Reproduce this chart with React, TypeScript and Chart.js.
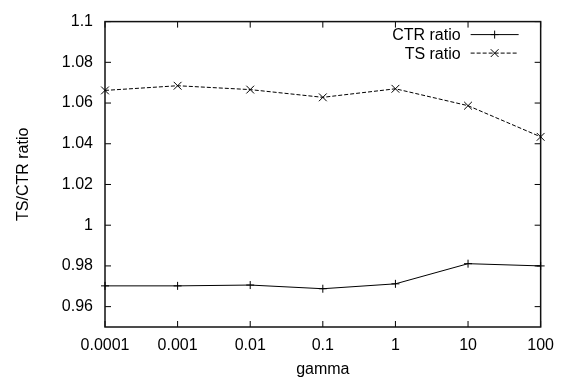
import React, { useEffect, useRef } from 'react';
import { Chart, registerables } from 'chart.js';

Chart.register(...registerables);

const GAMMA_LABELS = ['0.0001', '0.001', '0.01', '0.1', '1', '10', '100'];
const CTR_RATIO = [0.9702, 0.9702, 0.9706, 0.9688, 0.9712, 0.9811, 0.98];
const TS_RATIO = [1.0662, 1.0685, 1.0666, 1.0628, 1.067, 1.0587, 1.0434];
const Y_TICKS = [0.96, 0.98, 1, 1.02, 1.04, 1.06, 1.08, 1.1];
const Y_MIN = 0.95;
const Y_MAX = 1.1;

const FONT = "'Liberation Sans', Arial, Helvetica, sans-serif";

const framePlugin = {
  id: 'gnuFrame',
  beforeDatasetsDraw(chart: any) {
    const { ctx, chartArea: a, scales } = chart;
    const xs = scales.x;
    const ys = scales.y;
    const T = 6;
    ctx.save();
    ctx.strokeStyle = '#000';
    ctx.lineWidth = 1;
    ctx.beginPath();
    xs.ticks.forEach((_t: any, i: number) => {
      const px = xs.getPixelForTick(i);
      ctx.moveTo(px, a.bottom);
      ctx.lineTo(px, a.bottom - T);
      ctx.moveTo(px, a.top);
      ctx.lineTo(px, a.top + T);
    });
    ys.ticks.forEach((t: any) => {
      const py = ys.getPixelForValue(t.value);
      ctx.moveTo(a.left, py);
      ctx.lineTo(a.left + T, py);
      ctx.moveTo(a.right, py);
      ctx.lineTo(a.right - T, py);
    });
    ctx.stroke();
    ctx.lineWidth = 1.5;
    ctx.strokeStyle = '#111';
    ctx.strokeRect(a.left, a.top, a.right - a.left, a.bottom - a.top);
    ctx.restore();
  },
  afterDraw(chart: any) {
    const { ctx, chartArea: a } = chart;
    const textRight = a.right - 80;
    const x0 = a.right - 70;
    const x1 = a.right - 22;
    const xm = (x0 + x1) / 2;
    ctx.save();
    ctx.font = `16px ${FONT}`;
    ctx.textAlign = 'right';
    ctx.textBaseline = 'middle';
    ctx.fillStyle = '#000';
    chart.data.datasets.forEach((ds: any, i: number) => {
      const y = a.top + 13 + i * 18.5;
      ctx.fillText(ds.label, textRight, y + 1);
      ctx.strokeStyle = '#000';
      ctx.lineWidth = 1;
      ctx.setLineDash(ds.borderDash || []);
      ctx.beginPath();
      ctx.moveTo(x0, y);
      ctx.lineTo(x1, y);
      ctx.stroke();
      ctx.setLineDash([]);
      ctx.beginPath();
      if (ds.pointStyle === 'cross') {
        const r = ds.pointRadius;
        ctx.moveTo(xm - r, y);
        ctx.lineTo(xm + r, y);
        ctx.moveTo(xm, y - r);
        ctx.lineTo(xm, y + r);
      } else {
        const r = ds.pointRadius * Math.SQRT1_2;
        ctx.moveTo(xm - r, y - r);
        ctx.lineTo(xm + r, y + r);
        ctx.moveTo(xm - r, y + r);
        ctx.lineTo(xm + r, y - r);
      }
      ctx.stroke();
    });
    ctx.restore();
  },
};

export default function App() {
  const ref = useRef<HTMLCanvasElement | null>(null);

  useEffect(() => {
    if (!ref.current) return;
    const chart = new Chart(ref.current, {
      type: 'line',
      data: {
        labels: GAMMA_LABELS,
        datasets: [
          {
            label: 'CTR ratio',
            data: CTR_RATIO,
            borderColor: '#000',
            backgroundColor: '#000',
            borderWidth: 1,
            pointStyle: 'cross',
            pointRadius: 4,
            pointBorderWidth: 1,
            pointBorderColor: '#000',
            tension: 0,
            fill: false,
            clip: false as any,
          },
          {
            label: 'TS ratio',
            data: TS_RATIO,
            borderColor: '#000',
            backgroundColor: '#000',
            borderWidth: 1,
            borderDash: [4, 2],
            pointStyle: 'crossRot',
            pointRadius: 5.5,
            pointBorderWidth: 1,
            pointBorderColor: '#000',
            tension: 0,
            fill: false,
            clip: false as any,
          },
        ],
      },
      options: {
        animation: false,
        responsive: false,
        devicePixelRatio: 1,
        layout: { padding: { left: 0, right: 21, top: 10, bottom: 0 } },
        plugins: { legend: { display: false }, tooltip: { enabled: false } },
        scales: {
          x: {
            type: 'category',
            offset: false,
            grid: { display: false, drawTicks: false },
            border: { display: false },
            ticks: { color: '#000', font: { family: FONT, size: 16 }, padding: 9, maxRotation: 0, autoSkip: false },
            title: { display: true, text: 'gamma', color: '#000', font: { family: FONT, size: 16 }, padding: { top: 0, bottom: 5 } },
            afterFit: (s: any) => { s.height = 57; },
          },
          y: {
            type: 'linear',
            min: Y_MIN,
            max: Y_MAX,
            grid: { display: false, drawTicks: false },
            border: { display: false },
            ticks: {
              color: '#000',
              font: { family: FONT, size: 16 },
              padding: 12,
              callback: (v: any) => String(Number(Number(v).toFixed(2))),
            },
            afterBuildTicks: (s: any) => { s.ticks = Y_TICKS.map((v) => ({ value: v })); },
            title: { display: true, text: 'TS/CTR ratio', color: '#000', font: { family: FONT, size: 16 }, padding: { top: 14, bottom: 0 } },
            afterFit: (s: any) => { s.width = 105; },
          },
        },
      },
      plugins: [framePlugin],
    });
    return () => chart.destroy();
  }, []);

  return (
    <div style={{ position: 'absolute', left: 0, top: 0, width: 563, height: 384, background: '#fff' }}>
      <canvas ref={ref} width={563} height={384} style={{ display: 'block' }} />
    </div>
  );
}
